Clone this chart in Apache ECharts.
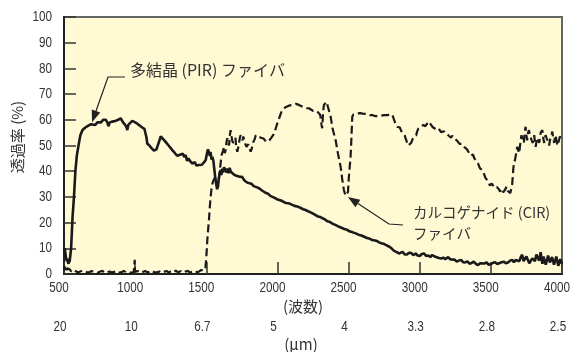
<!DOCTYPE html>
<html><head><meta charset="utf-8">
<script src="https://cdn.jsdelivr.net/npm/echarts@6/dist/echarts.min.js"></script>
<style>html,body{margin:0;padding:0;background:#fff}#c{width:573px;height:352px}</style>
</head><body><div id="c"></div>
<script>
const NUMFONT = "'Liberation Sans',Arial,sans-serif";
const JFONT = "'Noto Sans CJK JP',sans-serif";
const waveTicks = [500,1000,1500,2000,2500,3000,3500,4000];
const umLabels = ['20','10','6.7','5','4','3.3','2.8','2.5'];
const yTicks = [0,10,20,30,40,50,60,70,80,90,100];
const pirName = '多結晶 (PIR) ファイバ';
const cirName1 = 'カルコゲナイド (CIR)';
const cirName2 = 'ファイバ';
const yTitle = '透過率 (%)';
const xTitle1 = '(波数)';
const xTitle2 = '(μm)';
const pirArrowAt = [697, 59];
const cirArrowAt = [2495, 30];

const pir = [[500,9],[505,10],[510,8],[515,6],[520,5],[525,6],[530,4],[540,5],[550,10],[560,22],[565,26],[570,30],[580,40],[590,46],[605,51],[615,54],[630,56],[650,57],[665,57.5],[676,58],[690,58.3],[700,58],[720,58],[735,59],[746,58.6],[760,59],[775,60],[793,60],[805,59],[812,57.5],[816,57.3],[822,59],[840,59.3],[860,59.5],[880,60],[898,60.6],[915,59],[930,58],[940,57],[945,56],[952,58],[960,58.5],[980,59.6],[1000,59],[1015,58.5],[1027,58],[1050,57],[1065,56.5],[1074,56],[1080,53],[1085,50.8],[1100,50],[1115,49],[1125,48.5],[1132,48],[1150,48.5],[1165,51],[1180,53.5],[1191,53.4],[1205,52],[1220,51],[1235,50],[1250,49],[1261,48.2],[1280,47],[1295,46],[1308,45.6],[1320,46.5],[1335,46.8],[1345,45.5],[1355,46.3],[1365,44],[1375,45],[1385,44],[1395,43.5],[1402,43],[1412,42.8],[1420,43.5],[1430,42.2],[1440,42],[1450,42.4],[1460,41.7],[1468,42.5],[1475,43],[1485,43.5],[1496,44.4],[1505,47],[1512,48.5],[1519,48.9],[1525,46],[1530,47.5],[1537,44.5],[1542,45.6],[1550,44],[1556,41],[1562,38],[1570,35],[1576,33],[1582,34],[1588,37],[1594,39],[1600,40.5],[1606,38.5],[1612,41],[1618,39.5],[1625,41.5],[1636,41.7],[1643,39.5],[1650,41],[1657,39.2],[1664,41.3],[1672,39.8],[1683,40.5],[1692,38.8],[1700,39.3],[1712,38.2],[1722,38.6],[1730,37.9],[1742,37.5],[1752,37.8],[1760,37],[1772,36.2],[1782,36.5],[1790,35.5],[1805,35.3],[1820,35],[1833,34.2],[1847,34],[1862,33.6],[1880,33],[1897,32.3],[1910,32],[1920,31.5],[1935,31.2],[1950,30.4],[1964,30],[1980,29.6],[2000,29],[2020,28.7],[2040,28.2],[2060,27.6],[2081,27.5],[2100,27],[2120,26.5],[2140,26.3],[2160,25.8],[2180,25.2],[2198,24.9],[2220,24.3],[2240,23.8],[2260,23.2],[2280,22.5],[2300,22.2],[2315,21.7],[2330,21.4],[2350,20.5],[2370,20.2],[2390,19.5],[2410,19],[2433,18.4],[2450,18],[2470,17.5],[2490,17.2],[2510,16.5],[2530,16.2],[2550,15.8],[2570,15.3],[2590,15],[2610,14.5],[2630,14],[2650,13.7],[2667,13.2],[2685,13],[2700,12.8],[2715,12.3],[2730,12],[2745,11.8],[2761,11.3],[2775,11],[2790,10.5],[2805,9.8],[2820,9],[2835,8.6],[2854,8],[2866,8.4],[2880,8.6],[2895,7.6],[2910,7.6],[2925,8.3],[2940,8.2],[2955,7.3],[2971,8],[2985,7.2],[3000,7],[3015,7.8],[3030,8],[3045,7],[3060,7.2],[3075,6.6],[3088,7.4],[3105,6.8],[3120,6.5],[3135,6.2],[3150,6],[3165,6.4],[3180,5.8],[3192,6.2],[3200,6.6],[3215,5.7],[3229,5.4],[3245,5.6],[3260,4.8],[3275,5.2],[3290,5.5],[3305,4.6],[3320,4.5],[3335,4.9],[3350,4],[3365,4.3],[3380,4.8],[3395,3.9],[3410,3.5],[3425,4.2],[3439,3.5],[3455,4.1],[3470,4.5],[3485,3.6],[3500,3.8],[3515,4.4],[3530,4.6],[3545,3.9],[3557,4.2],[3575,4.6],[3590,4.8],[3605,4.2],[3620,4.5],[3635,5.2],[3650,5.5],[3662,4.6],[3674,5.4],[3688,5.1],[3700,5],[3710,6.5],[3720,7.5],[3730,5],[3740,4.5],[3750,6.8],[3760,6.5],[3770,4.2],[3780,4],[3791,6.1],[3800,5.4],[3810,5],[3820,7.6],[3830,7.8],[3840,5.2],[3850,8.5],[3856,6],[3862,4],[3870,6.8],[3878,6.5],[3886,3.6],[3894,4],[3902,7.2],[3908,7],[3915,4.5],[3922,4.8],[3930,6.6],[3937,6],[3944,3.6],[3952,3.5],[3960,6.8],[3967,6.5],[3974,3.2],[3982,3],[3988,5.8],[3994,5.5],[4000,4]];

const cir = [[500,3],[503,1.5],[508,2.8],[512,2.8],[516,1.2],[522,2.2],[530,1.5],[540,1.8],[550,1],[565,1.6],[580,1.2],[595,0.6],[610,0.9],[630,1.3],[650,1],[670,0.5],[690,1.1],[700,0.6],[720,0.9],[735,0.4],[750,0.9],[770,1.2],[785,0.5],[800,0.5],[820,1],[835,0.6],[850,0.8],[870,1.1],[885,0.5],[900,0.6],[920,1.2],[935,0.7],[950,0.9],[970,0.5],[990,0.7],[995,1],[997,5.5],[999,1],[1003,0.8],[1020,1.1],[1035,0.5],[1050,0.7],[1070,1.2],[1085,0.6],[1100,0.9],[1120,1.3],[1135,0.6],[1150,0.6],[1170,1],[1185,0.5],[1200,0.8],[1220,1.2],[1235,0.6],[1250,1],[1270,0.6],[1285,1.3],[1300,0.7],[1320,1.1],[1335,0.5],[1350,0.9],[1370,1.2],[1385,0.6],[1400,0.8],[1420,1.2],[1435,0.7],[1450,1],[1465,1.6],[1480,1.2],[1489,1.5],[1494,2.5],[1498,5],[1503,9],[1507,13],[1514,18],[1520,22],[1526,27],[1531,30],[1536,33],[1542,35],[1548,36],[1554,36.6],[1560,37.5],[1566,37],[1572,35],[1578,34],[1584,36],[1590,38],[1596,41],[1601,43],[1606,46],[1612,47],[1618,48],[1625,49.5],[1630,47],[1635,48],[1641,51],[1648,52.8],[1654,51],[1660,50],[1666,54],[1671,56],[1676,54],[1682,52],[1688,51],[1695,50.8],[1700,52],[1705,53],[1711,49],[1718,47.6],[1724,49],[1730,51],[1736,53],[1741,54],[1748,53],[1755,52],[1760,53.5],[1766,53],[1771,51],[1776,50.8],[1783,49.5],[1790,49],[1795,50.5],[1800,50],[1806,48.5],[1812,47.6],[1818,48.5],[1825,50],[1832,51.5],[1840,52.5],[1848,54],[1858,54.7],[1866,53.6],[1875,54],[1884,53],[1893,53.4],[1902,52.7],[1910,52.5],[1920,51.5],[1929,50.8],[1937,51.6],[1945,52],[1954,52.8],[1964,53.4],[1972,54.2],[1980,55],[1990,57],[1999,58.6],[2008,60],[2015,61],[2024,62.5],[2034,63.8],[2046,64.4],[2060,65],[2070,65.2],[2080,65.5],[2092,65.4],[2104,65.8],[2117,66],[2130,66.2],[2140,65.9],[2151,65.8],[2165,65.3],[2180,65],[2190,64.6],[2200,64.5],[2210,64.8],[2221,64.5],[2235,63.8],[2250,63.5],[2265,63.6],[2280,63.2],[2292,62.8],[2300,62],[2306,60],[2310,58],[2315,56.7],[2320,62],[2324,64.5],[2327,65.8],[2334,65.5],[2340,66],[2345,67],[2350,66.4],[2355,65],[2360,64],[2367,62.6],[2374,61.2],[2382,58.5],[2390,56],[2400,54],[2409,52.1],[2417,49.5],[2425,47],[2434,44.5],[2444,41.7],[2450,39.5],[2455,37],[2461,35],[2467,32.7],[2473,31.5],[2480,30.5],[2486,30],[2491,30.1],[2496,32],[2500,36],[2504,39],[2507,41],[2510,43],[2514,45.6],[2517,49],[2520,53],[2523,57],[2526,61.2],[2533,62],[2540,62.5],[2548,62.2],[2556,62.8],[2564,62.5],[2573,63.2],[2581,62.6],[2590,62],[2600,62.4],[2610,62.8],[2617,62.3],[2625,62],[2634,62.2],[2643,62.5],[2652,61.8],[2660,61.5],[2670,61.8],[2680,62],[2690,61.4],[2700,61],[2707,61.4],[2714,61.2],[2727,61.6],[2740,62],[2750,61.8],[2760,61.5],[2775,61.8],[2790,62.2],[2798,61.7],[2807,61.9],[2814,61],[2820,60],[2830,58.5],[2842,57.3],[2851,57.5],[2860,57],[2868,56],[2875,55],[2882,55.3],[2889,54.7],[2895,53.8],[2900,53],[2906,52],[2912,51],[2918,50],[2924,49.5],[2932,50],[2940,51],[2950,52.5],[2959,53.4],[2967,53.6],[2975,54],[2982,55.5],[2990,56.5],[2998,57],[3006,57.3],[3015,57.8],[3025,58],[3032,57.3],[3040,57.5],[3052,58.5],[3064,59.3],[3072,58.6],[3080,58],[3090,57.2],[3100,57],[3112,56.4],[3123,56],[3131,56.8],[3140,56.5],[3150,55.2],[3160,55],[3171,55.5],[3182,54.7],[3191,54.5],[3200,54],[3210,53.6],[3220,53],[3228,53.8],[3235,54],[3243,52.6],[3252,52.1],[3261,52],[3270,51.5],[3280,50.6],[3290,50],[3297,50.6],[3305,51],[3314,49.4],[3323,48.9],[3331,48.6],[3340,48],[3350,46.8],[3360,46],[3367,46.2],[3375,46.5],[3384,45],[3393,44.4],[3401,43.8],[3410,43],[3418,41.8],[3425,41],[3432,40.8],[3440,40.5],[3447,39.4],[3455,38.5],[3462,37.4],[3470,37],[3478,36.2],[3487,35.3],[3493,34.4],[3500,34],[3507,35.2],[3515,35],[3524,33.6],[3534,33.3],[3542,33.8],[3550,34.5],[3557,33],[3565,32],[3572,33.2],[3580,32.7],[3587,31.8],[3595,31.5],[3602,33],[3610,34],[3618,32.4],[3627,32],[3632,32.6],[3637,31.5],[3642,31.8],[3646,32],[3650,35],[3654,38],[3658,41],[3662,43],[3668,44],[3675,46],[3680,48],[3686,49.5],[3693,48],[3700,47],[3705,50],[3710,52],[3715,54],[3721,54.7],[3726,52],[3732,51],[3738,55],[3744,57.3],[3750,54],[3755,52],[3762,55],[3768,56],[3774,54],[3780,53.4],[3787,52],[3795,51],[3800,53],[3805,54],[3810,51],[3815,49.5],[3822,52],[3828,53],[3834,52],[3840,51],[3845,53],[3850,55],[3856,55.5],[3862,56],[3868,53],[3875,51],[3880,53],[3885,54],[3891,53],[3897,52.1],[3904,51],[3910,50],[3915,52],[3920,53],[3926,54],[3932,55.4],[3938,53],[3945,51],[3950,53],[3955,54],[3961,52],[3968,50],[3973,51],[3979,52.1],[3985,53.5],[3990,53],[3995,52],[4000,51.5]];

const chart = echarts.init(document.getElementById('c'), null, {renderer:'canvas'});
chart.setOption({
  animation: false,
  grid: {left: 64, right: 11, top: 17, bottom: 78, show: true, backgroundColor: '#FFF9D4', borderColor: '#666', borderWidth: 2},
  xAxis: {
    type: 'value', min: 500, max: 4000, interval: 500, position: 'bottom',
    axisLine: {onZero: false, lineStyle: {color: '#222', width: 2}},
    axisTick: {inside: true, length: 12, lineStyle: {color: '#333', width: 1.5}},
    splitLine: {show: false},
    axisLabel: {show: false}
  },
  yAxis: {
    type: 'value', min: 0, max: 100, interval: 10,
    axisLine: {show: true, onZero: false, lineStyle: {color: '#222', width: 2}},
    axisTick: {show: true, inside: true, length: 12, lineStyle: {color: '#333', width: 1.5}},
    splitLine: {show: false},
    axisLabel: {show: false}
  },
  series: [
    {type: 'line', data: pir, showSymbol: false, lineStyle: {color: '#1a1a1a', width: 2.6}, z: 3},
    {type: 'line', data: cir, showSymbol: false, lineStyle: {color: '#1a1a1a', width: 2.2, type: [8, 4]}, z: 2}
  ]
});

function arrowGraphics(tipData, tail, elbow) {
  const tip = chart.convertToPixel({xAxisIndex: 0, yAxisIndex: 0}, tipData);
  const dx = tip[0] - tail[0], dy = tip[1] - tail[1];
  const L = Math.hypot(dx, dy), ux = dx / L, uy = dy / L;
  const hl = 12, hw = 4.5;
  const bx = tip[0] - ux * hl, by = tip[1] - uy * hl;
  return [
    {type: 'polyline', shape: {points: [elbow, tail, [bx, by]]}, style: {stroke: '#222', lineWidth: 1.2, fill: null}, z: 10},
    {type: 'polygon', shape: {points: [tip, [bx - uy * hw, by + ux * hw], [bx + uy * hw, by - ux * hw]]}, style: {fill: '#222'}, z: 10}
  ];
}

const numText = (x, y, t, align) => ({type: 'text', x: x, y: y, scaleX: 0.78, z: 10,
  style: {text: t, fontFamily: NUMFONT, fontSize: 15, fill: '#333', align: align, verticalAlign: 'middle'}});

const tickLabels = [];
waveTicks.forEach((v, i) => {
  const px = chart.convertToPixel({xAxisIndex: 0}, v);
  tickLabels.push(numText(px - 5, 288, String(v), 'center'));
  tickLabels.push(numText(px - 4, 327, umLabels[i], 'center'));
});
yTicks.forEach(v => {
  const py = chart.convertToPixel({yAxisIndex: 0}, v);
  tickLabels.push(numText(52, py, String(v), 'right'));
});

const txt = (x, y, t, fs) => ({type: 'text', left: x, top: y, z: 10, style: {text: t, fontFamily: JFONT, fontSize: fs, fill: '#333'}});

const g = [].concat(
  tickLabels,
  arrowGraphics(pirArrowAt, [108, 77], [125, 77]),
  arrowGraphics(cirArrowAt, [389, 224], [403, 225]),
  [
    txt(130, 62, pirName, 16),
    txt(413, 205, cirName1, 14.5),
    txt(413, 226, cirName2, 14.5),
    {type: 'text', x: 17, y: 137, rotation: Math.PI / 2, z: 10, style: {text: yTitle, fontFamily: JFONT, fontSize: 15, fill: '#333', align: 'center', verticalAlign: 'middle'}},
    {type: 'text', x: 303, y: 306, z: 10, style: {text: xTitle1, fontFamily: JFONT, fontSize: 15, fill: '#333', align: 'center', verticalAlign: 'middle'}},
    {type: 'text', x: 301, y: 344, z: 10, style: {text: xTitle2, fontFamily: JFONT, fontSize: 15, fill: '#333', align: 'center', verticalAlign: 'middle'}}
  ]
);
chart.setOption({graphic: g});
</script></body></html>
